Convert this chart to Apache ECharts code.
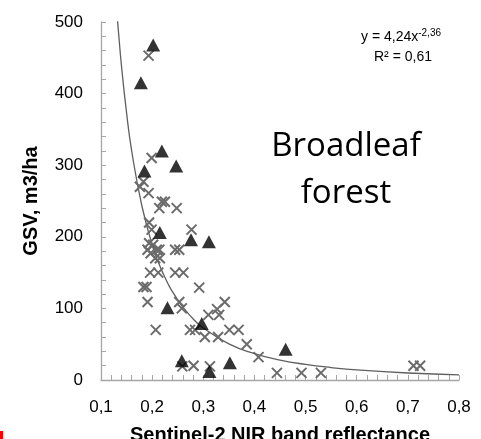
<!DOCTYPE html>
<html>
<head>
<meta charset="utf-8">
<script src="https://cdn.jsdelivr.net/npm/echarts@6/dist/echarts.min.js"></script>
<style>html,body{margin:0;padding:0;background:#fff}#c{width:481px;height:439px}</style>
</head>
<body>
<div id="c"></div>
<script>
// Crosses (gray X markers): [reflectance, GSV]
var crossPoints = [
  [0.193,453],[0.199,310],[0.183,277],[0.176,270],[0.193,261],[0.219,249],[0.225,249],[0.214,240],
  [0.248,240],[0.194,220],[0.199,210],[0.277,210],[0.194,191],[0.202,189],[0.191,182],[0.209,182],
  [0.214,182],[0.245,182],[0.253,182],[0.197,177],[0.206,170],[0.215,170],[0.196,150],[0.212,150],
  [0.245,150],[0.261,150],[0.183,130],[0.189,130],[0.292,129],[0.191,109],[0.253,109],[0.258,100],
  [0.342,109],[0.327,99],[0.310,91],[0.331,91],[0.207,70],[0.274,70],[0.284,70],[0.351,70],
  [0.369,70],[0.303,60],[0.329,60],[0.385,50],[0.408,32],[0.259,19],[0.281,20],[0.313,19],
  [0.444,10],[0.492,10],[0.530,10],[0.711,20],[0.724,20]
];
// Triangles (black markers)
var trianglePoints = [
  [0.202,468],[0.178,415],[0.219,320],[0.247,299],[0.185,292],[0.215,206],[0.276,196],
  [0.311,193],[0.230,101],[0.297,79],[0.258,27],[0.312,12],[0.352,24],[0.461,43]
];
// Power trend line
var trendX = [0.13,0.133,0.14,0.15,0.16,0.18,0.2,0.22,0.25,0.28,0.3,0.35,0.4,0.45,0.5,0.55,0.6,0.7,0.8];
var trendY = [519,496,439,373,320,243,189,151,112,85.5,72.7,50.5,36.9,27.9,21.8,17.4,14.1,9.8,7.2];
var xTicks = [0.1,0.2,0.3,0.4,0.5,0.6,0.7,0.8];
var yTicks = [0,100,200,300,400,500];
var eqText = ['y = 4,24x', '-2,36', 'R² = 0,61'];
var xName = 'Sentinel-2 NIR band reflectance';
var yName = 'GSV, m3/ha';
var noteText = 'Broadleaf\nforest';

var trend = trendX.map(function(x,i){return [x, trendY[i]];});
var axisGray = '#a6a6a6';
var font = '"Liberation Sans", Arial, sans-serif';

var chart = echarts.init(document.getElementById('c'), null, {renderer:'canvas'});
chart.setOption({
  animation: false,
  backgroundColor: '#fff',
  grid: {left: 101, right: 22, top: 22, bottom: 59, containLabel: false, outerBoundsMode: 'none'},
  xAxis: {
    type: 'value', min: xTicks[0], max: xTicks[xTicks.length-1], interval: 0.1,
    name: xName, nameLocation: 'middle', nameGap: 45,
    nameTextStyle: {fontFamily: font, fontSize: 20, fontWeight: 'bold', color: '#000'},
    axisLine: {show: true, lineStyle: {color: axisGray, width: 1.3}},
    axisTick: {show: true, inside: true, length: 5, lineStyle: {color: axisGray}},
    minorTick: {show: true, splitNumber: 5, length: 5, lineStyle: {color: axisGray}},
    axisLabel: {fontFamily: font, fontSize: 17, color: '#000', margin: 19,
      formatter: function(v){return v.toFixed(1).replace('.', ',');}},
    splitLine: {show: false}
  },
  yAxis: {
    type: 'value', min: yTicks[0], max: yTicks[yTicks.length-1], interval: 100,
    name: yName, nameLocation: 'middle', nameGap: 60, nameRotate: 90,
    nameTextStyle: {fontFamily: font, fontSize: 20, fontWeight: 'bold', color: '#000'},
    axisLine: {show: true, lineStyle: {color: axisGray, width: 1.3}},
    axisTick: {show: true, inside: true, length: 5, lineStyle: {color: axisGray}},
    minorTick: {show: true, splitNumber: 5, length: 5, lineStyle: {color: axisGray}},
    axisLabel: {fontFamily: font, fontSize: 17, color: '#000', margin: 18},
    splitLine: {show: false}
  },
  series: [
    {
      type: 'line', data: trend, smooth: true, showSymbol: false, symbol: 'none',
      lineStyle: {color: '#5f5f5f', width: 1.3}, clip: true, z: 1
    },
    {
      type: 'scatter', data: crossPoints,
      symbol: 'path://M0,0L10,10M10,0L0,10', symbolSize: 10,
      itemStyle: {color: 'rgba(0,0,0,0)', borderColor: '#6b6b6b', borderWidth: 2, opacity: 1},
      z: 2
    },
    {
      type: 'scatter', data: trianglePoints,
      symbol: 'triangle', symbolSize: [14, 13],
      itemStyle: {color: '#000'}, z: 3
    }
  ],
  graphic: [
    {
      type: 'text', x: 401, y: 37,
      style: {
        text: '{a|' + eqText[0] + '}{s|' + eqText[1] + '}',
        rich: {
          a: {fontFamily: font, fontSize: 14, fill: '#000', color: '#000'},
          s: {fontFamily: font, fontSize: 10, fill: '#000', color: '#000', verticalAlign: 'top', padding: [0,0,8,0]}
        },
        textAlign: 'center', textVerticalAlign: 'middle', align: 'center', verticalAlign: 'middle'
      }
    },
    {
      type: 'text', x: 403, y: 57,
      style: {text: eqText[2], font: '14px ' + font, fill: '#000', textAlign: 'center', textVerticalAlign: 'middle', align: 'center', verticalAlign: 'middle'}
    },
    {
      type: 'text', x: 346, y: 170,
      style: {text: noteText, font: '33px "Open Sans", "Noto Sans", sans-serif', fill: '#000',
        lineHeight: 47, textAlign: 'center', textVerticalAlign: 'middle', align: 'center', verticalAlign: 'middle'}
    },
    {
      type: 'rect', shape: {x: 0, y: 431, width: 3, height: 8}, style: {fill: '#ff0000'}
    }
  ]
});
</script>
</body>
</html>
